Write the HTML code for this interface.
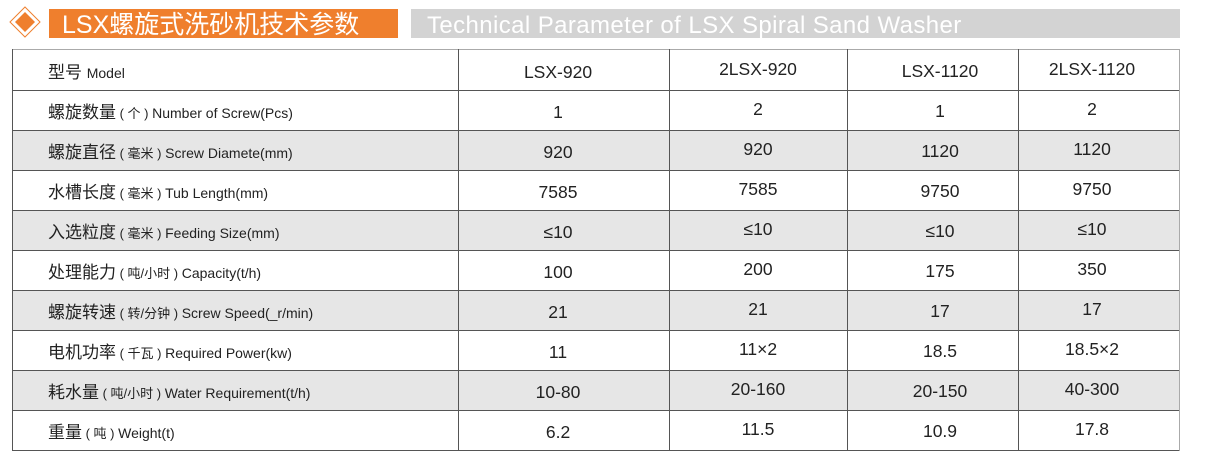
<!DOCTYPE html>
<html><head><meta charset="utf-8"><style>
html,body{margin:0;padding:0;background:#fff;width:1224px;height:464px;overflow:hidden}
svg{display:block}
text{font-family:"Liberation Sans","Noto Sans CJK SC",sans-serif;fill:#222}
</style></head><body>
<svg width="1224" height="464" viewBox="0 0 1224 464" xmlns="http://www.w3.org/2000/svg">
<rect x="49" y="9" width="349" height="29" fill="#ef7f2d"/>
<rect x="411" y="9" width="769" height="29" fill="#d3d3d3"/>
<polygon points="25,7 40,22 25,37 10,22" fill="none" stroke="#ef7f2d" stroke-width="1"/>
<polygon points="25,12 35,22 25,32 15,22" fill="#ef7f2d"/>
<text x="62" y="33" font-size="25" style="fill:#fff">LSX螺旋式洗砂机技术参数</text>
<text x="427" y="33" font-size="24" letter-spacing="0.4" style="fill:#fff">Technical Parameter of LSX Spiral Sand Washer</text>
<g fill="#e6e6e6">
<rect x="13" y="130" width="1167" height="40"/>
<rect x="13" y="210" width="1167" height="40"/>
<rect x="13" y="290" width="1167" height="40"/>
<rect x="13" y="370" width="1167" height="40"/>
</g>
<g stroke="#555" stroke-width="1">
<line x1="13" y1="49.5" x2="1180" y2="49.5" stroke="#aaa"/>
<line x1="13" y1="90.5" x2="1180" y2="90.5"/>
<line x1="13" y1="130.5" x2="1180" y2="130.5"/>
<line x1="13" y1="170.5" x2="1180" y2="170.5"/>
<line x1="13" y1="210.5" x2="1180" y2="210.5"/>
<line x1="13" y1="250.5" x2="1180" y2="250.5"/>
<line x1="13" y1="290.5" x2="1180" y2="290.5"/>
<line x1="13" y1="330.5" x2="1180" y2="330.5"/>
<line x1="13" y1="370.5" x2="1180" y2="370.5"/>
<line x1="13" y1="410.5" x2="1180" y2="410.5"/>
<line x1="13" y1="450.5" x2="1180" y2="450.5"/>
<line x1="12.5" y1="49" x2="12.5" y2="451"/>
<line x1="458.5" y1="49" x2="458.5" y2="451"/>
<line x1="669.5" y1="49" x2="669.5" y2="451"/>
<line x1="847.5" y1="49" x2="847.5" y2="451"/>
<line x1="1018.5" y1="49" x2="1018.5" y2="451"/>
<line x1="1179.5" y1="49" x2="1179.5" y2="451" stroke="#aaa"/>
</g>
<g font-size="17">
<text x="48" y="78">型号 <tspan font-size="14">Model</tspan></text>
<text x="48" y="118">螺旋数量<tspan font-size="13"> ( 个 ) </tspan><tspan font-size="14">Number of  Screw(Pcs)</tspan></text>
<text x="48" y="158">螺旋直径<tspan font-size="13"> ( 毫米 ) </tspan><tspan font-size="14">Screw Diamete(mm)</tspan></text>
<text x="48" y="198">水槽长度<tspan font-size="13"> ( 毫米 ) </tspan><tspan font-size="14">Tub Length(mm)</tspan></text>
<text x="48" y="238">入选粒度<tspan font-size="13"> ( 毫米 ) </tspan><tspan font-size="14">Feeding Size(mm)</tspan></text>
<text x="48" y="278">处理能力<tspan font-size="13"> ( 吨/小时 ) </tspan><tspan font-size="14">Capacity(t/h)</tspan></text>
<text x="48" y="318">螺旋转速<tspan font-size="13"> ( 转/分钟 ) </tspan><tspan font-size="14">Screw Speed(_r/min)</tspan></text>
<text x="48" y="358">电机功率<tspan font-size="13"> ( 千瓦 ) </tspan><tspan font-size="14">Required Power(kw)</tspan></text>
<text x="48" y="398">耗水量<tspan font-size="13"> ( 吨/小时 ) </tspan><tspan font-size="14">Water Requirement(t/h)</tspan></text>
<text x="48" y="438">重量<tspan font-size="13"> ( 吨 ) </tspan><tspan font-size="14">Weight(t)</tspan></text>
</g>
<g font-size="17.5" text-anchor="middle">
<g transform="translate(558,0)">
<text y="78">LSX-920</text><text y="118">1</text><text y="158">920</text><text y="198">7585</text><text y="238">≤10</text><text y="278">100</text><text y="318">21</text><text y="358">11</text><text y="398">10-80</text><text y="438">6.2</text>
</g>
<g transform="translate(758,-3)">
<text y="78">2LSX-920</text><text y="118">2</text><text y="158">920</text><text y="198">7585</text><text y="238">≤10</text><text y="278">200</text><text y="318">21</text><text y="358">11×2</text><text y="398">20-160</text><text y="438">11.5</text>
</g>
<g transform="translate(940,-1)">
<text y="78">LSX-1120</text><text y="118">1</text><text y="158">1120</text><text y="198">9750</text><text y="238">≤10</text><text y="278">175</text><text y="318">17</text><text y="358">18.5</text><text y="398">20-150</text><text y="438">10.9</text>
</g>
<g transform="translate(1092,-3)">
<text y="78">2LSX-1120</text><text y="118">2</text><text y="158">1120</text><text y="198">9750</text><text y="238">≤10</text><text y="278">350</text><text y="318">17</text><text y="358">18.5×2</text><text y="398">40-300</text><text y="438">17.8</text>
</g>
</g>
</svg>
</body></html>
